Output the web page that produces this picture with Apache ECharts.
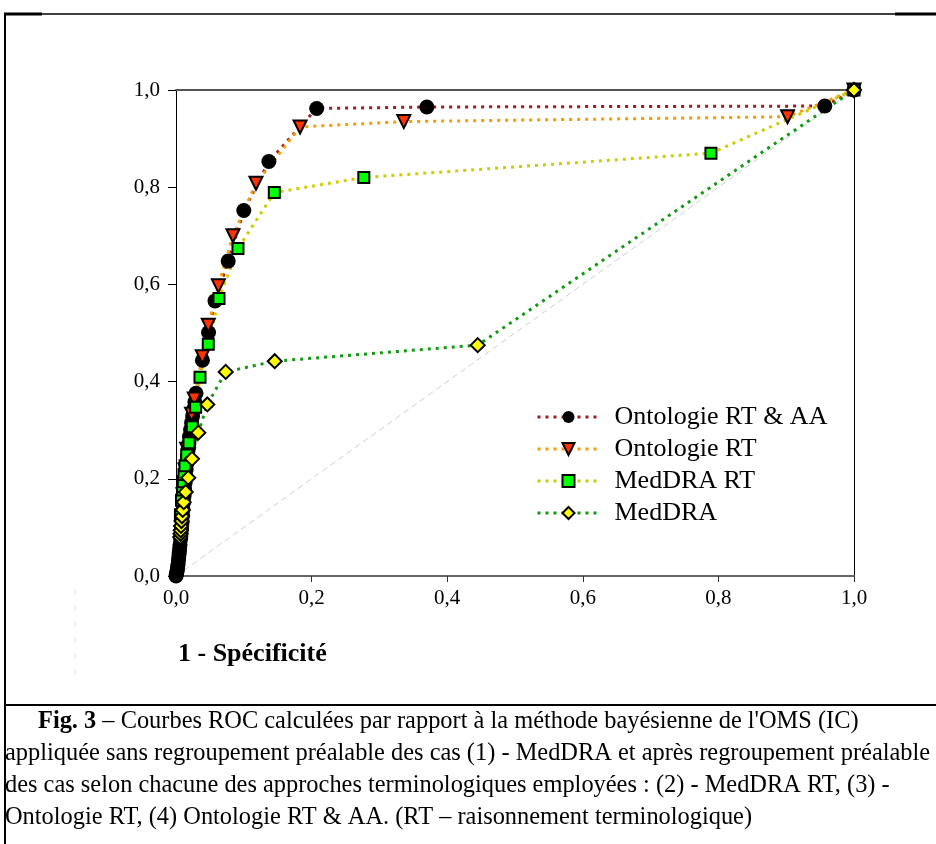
<!DOCTYPE html>
<html>
<head>
<meta charset="utf-8">
<title>Courbes ROC</title>
<script src="https://cdn.jsdelivr.net/npm/echarts@6/dist/echarts.min.js"></script>
<style>
    html, body { margin: 0; padding: 0; background: #fff; }
    #chart { width: 936px; height: 844px; }
</style>
</head>
<body>
<div id="chart"></div>
<script>
// Points [1 - spécificité, sensibilité]
var ontoRtAa = [
    [0, 0], [0.0005, 0.003], [0.001, 0.006], [0.0015, 0.010], [0.002, 0.014],
    [0.0025, 0.019], [0.003, 0.024], [0.0035, 0.031], [0.004, 0.037],
    [0.0045, 0.044], [0.005, 0.051], [0.0055, 0.058], [0.006, 0.065],
    [0.0068, 0.076], [0.0075, 0.087], [0.0082, 0.097], [0.009, 0.110],
    [0.0097, 0.124], [0.0104, 0.137], [0.0112, 0.151], [0.012, 0.165],
    [0.0127, 0.178], [0.0135, 0.192], [0.0142, 0.206], [0.015, 0.219],
    [0.016, 0.233], [0.017, 0.246], [0.018, 0.260], [0.019, 0.273],
    [0.020, 0.287], [0.0215, 0.301], [0.023, 0.315], [0.0245, 0.329],
    [0.026, 0.343], [0.0278, 0.358], [0.0295, 0.376],
    [0.039, 0.444], [0.048, 0.501], [0.0575, 0.566], [0.077, 0.648],
    [0.100, 0.752], [0.137, 0.853], [0.2075, 0.962], [0.370, 0.965],
    [0.957, 0.967], [1, 1]
];
var ontoRt = [
    [0, 0], [0.0103, 0.167],
    [0.0133, 0.218], [0.0158, 0.261], [0.023, 0.333], [0.027, 0.364],
    [0.0388, 0.451], [0.0476, 0.516], [0.0625, 0.597], [0.084, 0.700],
    [0.118, 0.808], [0.183, 0.924], [0.336, 0.935], [0.902, 0.945], [1, 1]
];
var meddraRt = [
    [0, 0], [0.0066, 0.126], [0.0081, 0.156],
    [0.0096, 0.177], [0.0108, 0.194], [0.0118, 0.209], [0.0133, 0.227],
    [0.0158, 0.249], [0.0192, 0.274], [0.024, 0.307], [0.029, 0.347],
    [0.0354, 0.409], [0.0476, 0.477], [0.0634, 0.571], [0.0914, 0.674],
    [0.145, 0.789], [0.277, 0.820], [0.789, 0.870], [1, 1]
];
var meddra = [
    [0, 0], [0.0062, 0.080], [0.0066, 0.087], [0.007, 0.094],
    [0.0074, 0.103], [0.0081, 0.113], [0.0088, 0.123],
    [0.0099, 0.136], [0.0114, 0.152], [0.0143, 0.173], [0.0181, 0.202],
    [0.0236, 0.241], [0.0329, 0.295], [0.0462, 0.353], [0.0733, 0.420],
    [0.1456, 0.442], [0.445, 0.475], [1, 1]
];
var diagonal = [[0, 0], [1, 1]];

var seriesNames = ['Ontologie RT & AA', 'Ontologie RT', 'MedDRA RT', 'MedDRA'];

var captionLines = [
    '{b|Fig. 3} – Courbes ROC calculées par rapport à la méthode bayésienne de l\'OMS (IC)',
    'appliquée sans regroupement préalable des cas (1) - MedDRA et après regroupement préalable',
    'des cas selon chacune des approches terminologiques employées : (2) - MedDRA RT, (3) -',
    'Ontologie RT, (4) Ontologie RT & AA. (RT – raisonnement terminologique)'
];

var serif = '"Liberation Serif", "DejaVu Serif", serif';

var comma = function (v) {
    return v.toFixed(1).replace('.', ',');
};

// série pointillée avec marqueurs ; l'origine reste sous la tache noire des cercles
var rocSeries = function (name, data, lineColor, symbol, fill, size, rotate) {
    var points = data.map(function (p) {
        if (symbol !== 'circle' && p[0] === 0 && p[1] === 0) {
            return { value: p, symbol: 'none' };
        }
        return p;
    });
    return {
        name: name,
        type: 'line',
        data: points,
        symbol: symbol,
        symbolSize: size,
        symbolRotate: rotate || 0,
        showAllSymbol: true,
        animation: false,
        lineStyle: { color: lineColor, width: 3, type: [3, 5], cap: 'butt' },
        itemStyle: { color: fill, borderColor: '#000', borderWidth: symbol === 'circle' ? 0 : 2 }
    };
};

var graphics = [
    // cadre de la figure
    { type: 'line', shape: { x1: 5, y1: 14, x2: 936, y2: 14 }, style: { stroke: '#000', lineWidth: 1.5 } },
    { type: 'line', shape: { x1: 4, y1: 14, x2: 42, y2: 14 }, style: { stroke: '#000', lineWidth: 3 } },
    { type: 'line', shape: { x1: 895, y1: 14, x2: 936, y2: 14 }, style: { stroke: '#000', lineWidth: 3 } },
    { type: 'line', shape: { x1: 5, y1: 13, x2: 5, y2: 844 }, style: { stroke: '#000', lineWidth: 2 } },
    { type: 'line', shape: { x1: 5, y1: 705, x2: 936, y2: 705 }, style: { stroke: '#000', lineWidth: 2 } },
    { type: 'line', shape: { x1: 75, y1: 590, x2: 75, y2: 680 }, style: { stroke: '#ddd', lineWidth: 1, lineDash: [4, 12] } },
    {
        type: 'text', left: 178, top: 641,
        style: { text: '1 - Spécificité', font: 'bold 26px ' + serif, fill: '#000' }
    }
];

captionLines.forEach(function (line, i) {
    graphics.push({
        type: 'text',
        left: i === 0 ? 38 : 5,
        top: 710 + i * 31.7,
        style: {
            text: line,
            font: '24.4px ' + serif,
            fill: '#000',
            rich: { b: { fontWeight: 'bold', fontFamily: serif, fontSize: 24.4 } }
        }
    });
});

var chart = echarts.init(document.getElementById('chart'));

var option = {
    backgroundColor: '#fff',
    animation: false,
    textStyle: { fontFamily: serif, color: '#000' },
    grid: { left: 176, right: 82, top: 90, bottom: 268 },
    legend: {
        data: seriesNames,
        orient: 'vertical',
        left: 531,
        top: 399,
        itemWidth: 62,
        itemHeight: 15,
        itemGap: 6,
        lineStyle: { width: 3, type: [3, 5], cap: 'butt' },
        textStyle: { fontFamily: serif, fontSize: 26, color: '#000', padding: [0, 0, 0, 10] }
    },
    xAxis: [
        {
            type: 'value', min: 0, max: 1, interval: 0.2,
            axisLine: { show: true, lineStyle: { color: '#666', width: 2 } },
            axisTick: { show: true, length: 6, lineStyle: { color: '#333' } },
            axisLabel: { formatter: comma, fontFamily: serif, fontSize: 21, color: '#000', margin: 12 },
            splitLine: { show: false }
        },
        {
            type: 'value', position: 'top', min: 0, max: 1,
            axisLine: { show: true, onZero: false, lineStyle: { color: '#555', width: 2 } },
            axisTick: { show: false }, axisLabel: { show: false }, splitLine: { show: false }
        }
    ],
    yAxis: [
        {
            type: 'value', min: 0, max: 1, interval: 0.2,
            axisLine: { show: true, lineStyle: { color: '#000', width: 1 } },
            axisTick: { show: true, length: 8, lineStyle: { color: '#000' } },
            axisLabel: { formatter: comma, fontFamily: serif, fontSize: 21, color: '#000', margin: 16 },
            splitLine: { show: false }
        },
        {
            type: 'value', position: 'right', min: 0, max: 1,
            axisLine: { show: true, onZero: false, lineStyle: { color: '#000', width: 1 } },
            axisTick: { show: false }, axisLabel: { show: false }, splitLine: { show: false }
        }
    ],
    series: [
        {
            name: 'diagonale',
            type: 'line',
            data: diagonal,
            symbol: 'none',
            silent: true,
            z: 1,
            lineStyle: { color: '#cfcfcf', width: 1, type: [6, 4] }
        },
        rocSeries(seriesNames[0], ontoRtAa, '#a01c1c', 'circle', '#000', 15),
        rocSeries(seriesNames[1], ontoRt, '#ff9900', 'triangle', '#ff3300', 13, 180),
        rocSeries(seriesNames[2], meddraRt, '#cccc00', 'rect', '#00ff00', 11),
        rocSeries(seriesNames[3], meddra, '#119911', 'diamond', '#ffff00', 14)
    ],
    graphic: graphics
};

chart.setOption(option);
</script>
</body>
</html>
